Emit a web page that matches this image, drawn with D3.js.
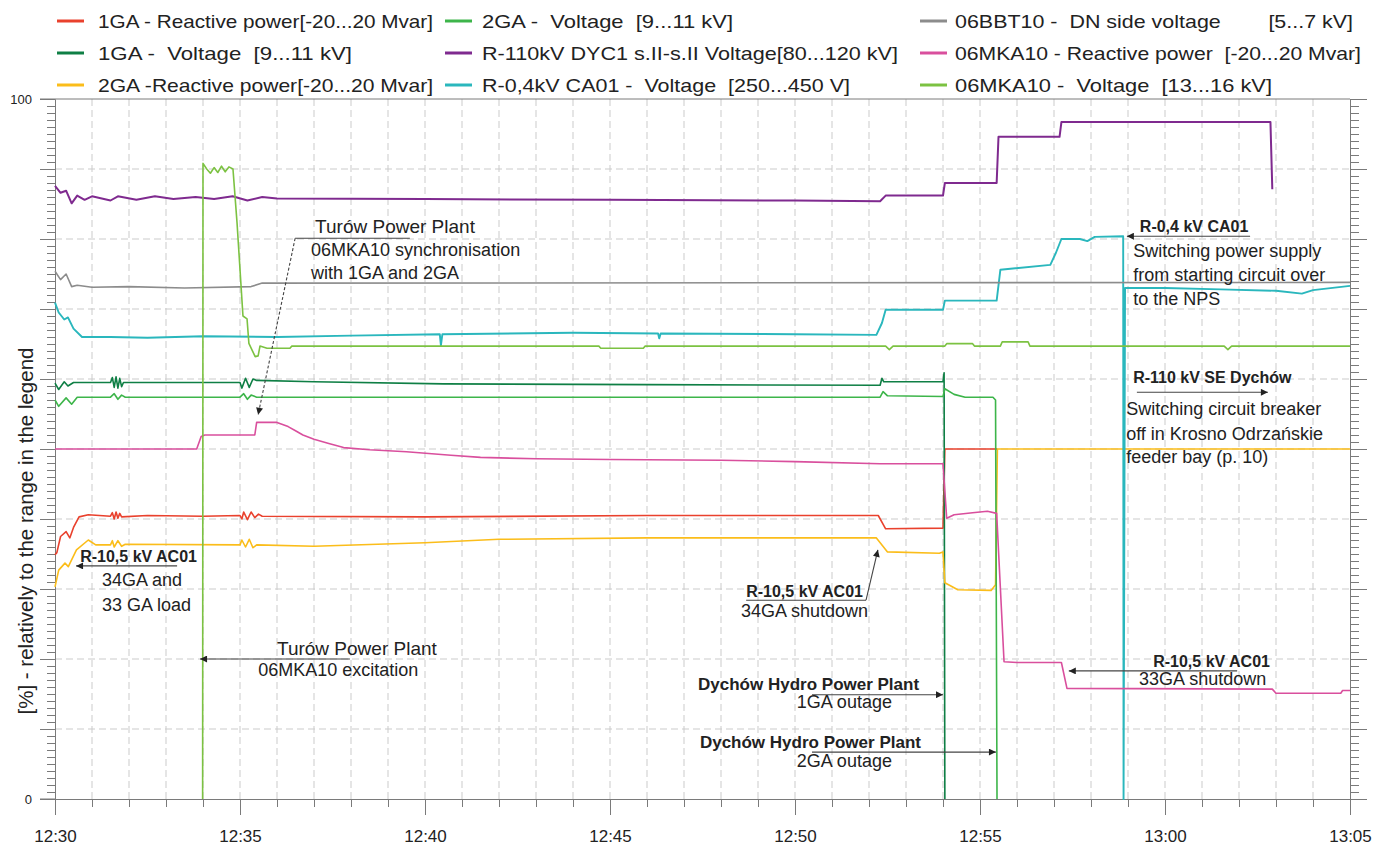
<!DOCTYPE html>
<html>
<head>
<meta charset="utf-8">
<script src="https://cdn.jsdelivr.net/npm/d3@7"></script>
<style>
  body { margin: 0; background: #fff; }
  svg text { font-family: "Liberation Sans", Arial, sans-serif; fill: #222; white-space: pre; }
</style>
</head>
<body>
<svg class="chart"></svg>
<script>
const width = 1391,
  height = 847;

// values in % of the legend range, time in minutes after 12:30
const ga1Reactive = [[0,34.9],[0.05,35.2],[0.15,37.5],[0.3,38.2],[0.4,37.3],[0.5,38.8],[0.65,40.3],[0.9,40.6],[1.5,40.4],[1.55,40.9],[1.6,40.0],[1.65,41.0],[1.7,40.1],[1.75,40.8],[1.8,40.3],[2.5,40.5],[4.0,40.4],[5.0,40.5],[5.05,40.0],[5.1,41.0],[5.2,39.9],[5.3,41.0],[5.4,40.2],[5.5,40.7],[5.6,40.4],[10,40.3],[16,40.5],[22.25,40.5],[22.45,38.6],[24.0,38.7],[24.05,50.0],[25.47,50.0]];
const ga1Voltage = [[0,59.4],[0.1,58.5],[0.25,59.6],[0.35,59.0],[0.5,59.5],[1.5,59.5],[1.55,60.2],[1.6,58.8],[1.65,60.3],[1.7,58.7],[1.75,60.1],[1.8,58.9],[1.85,59.5],[5.0,59.5],[5.05,58.7],[5.15,60.1],[5.25,58.8],[5.35,60.0],[5.45,59.8],[7,59.6],[10.5,59.3],[16,59.2],[22.3,59.1],[22.35,60.1],[22.4,59.6],[24.0,59.6],[24.03,60.9],[24.05,0]];
const ga2Reactive = [[0,30.3],[0.1,32.7],[0.27,33.7],[0.36,33.2],[0.58,35.6],[0.9,37.0],[1.1,36.3],[1.5,36.3],[1.55,36.9],[1.6,36.0],[1.7,36.9],[1.8,36.1],[1.9,36.4],[5.0,36.3],[5.05,37.0],[5.15,36.0],[5.25,37.1],[5.35,35.9],[5.45,36.3],[7,36.1],[10,36.6],[12,37.1],[16,37.3],[22.2,37.3],[22.5,35.3],[23.9,35.1],[24.0,35.3],[24.05,30.9],[24.4,29.9],[25.3,29.8],[25.42,30.6],[25.47,50.0],[35,50.0]];
const ga2Voltage = [[0,57.0],[0.1,56.1],[0.3,57.3],[0.45,56.4],[0.6,57.4],[1.5,57.4],[1.6,57.9],[1.7,57.1],[1.8,57.7],[1.9,57.4],[5.0,57.4],[5.1,57.9],[5.2,57.1],[5.3,57.7],[5.45,57.4],[22.3,57.4],[22.38,58.2],[22.5,57.6],[24.0,57.5],[24.05,58.6],[24.3,57.8],[24.6,57.4],[25.35,57.4],[25.42,57.0],[25.46,0]];
const dyc1Voltage = [[0,87.6],[0.15,86.6],[0.3,86.9],[0.45,85.1],[0.6,86.2],[0.8,85.6],[1.0,86.1],[1.5,85.5],[1.7,86.1],[2.2,85.6],[2.7,86.1],[3.2,85.7],[3.8,86.0],[4.3,85.7],[4.8,86.1],[5.2,85.5],[5.6,86.0],[6,85.8],[10,85.7],[15,85.6],[20,85.5],[22.3,85.4],[22.45,86.2],[24.0,86.2],[24.05,88.0],[25.45,88.0],[25.5,94.6],[27.15,94.6],[27.2,96.7],[32.85,96.7],[32.9,87.1]];
const ca01Voltage = [[0,70.9],[0.1,69.5],[0.25,68.5],[0.35,68.8],[0.5,67.2],[0.73,66.0],[1.5,66.0],[2.5,65.9],[4,66.1],[6,66.0],[8,66.2],[10.4,66.4],[10.43,64.8],[10.47,66.4],[14,66.6],[16.3,66.5],[16.33,65.8],[16.37,66.5],[20,66.4],[22.2,66.3],[22.35,68.0],[22.45,69.9],[24.0,69.9],[24.05,71.2],[25.45,71.2],[25.55,75.6],[26.9,76.3],[27.05,78],[27.2,80.0],[27.7,80.0],[27.9,79.7],[28.1,80.3],[28.87,80.4],[28.88,0],[28.92,73.0],[30,73.0],[31.5,72.8],[33,72.6],[33.7,72.2],[34,72.7],[35,73.3]];
const bbtVoltage = [[0,75.4],[0.15,74.2],[0.3,75.0],[0.45,73.2],[0.6,73.4],[1,73.1],[2,73.2],[3.5,73.0],[5.3,73.2],[5.6,73.7],[35,73.8]];
const mkaReactive = [[0,50.0],[3.83,50.0],[3.95,51.8],[4.05,52.0],[5.4,52.0],[5.45,53.8],[6.0,53.8],[6.3,53.2],[6.5,52.6],[6.7,52.0],[7.0,51.4],[7.4,50.8],[7.8,50.2],[8.5,49.9],[9.5,49.6],[10.7,49.1],[11.5,48.8],[13,48.6],[15,48.5],[18,48.4],[20,48.2],[22.3,47.9],[24.0,47.9],[24.1,40.1],[24.3,40.6],[24.8,40.9],[25.2,41.1],[25.45,40.8],[25.65,19.6],[26,19.5],[27.2,19.5],[27.35,15.8],[32.9,15.7],[33.0,15.1],[34.75,15.1],[34.8,15.5],[35,15.5]];
const mkaVoltage = [[3.99,0],[4.0,90.8],[4.1,90.0],[4.2,89.4],[4.3,90.2],[4.4,89.5],[4.5,90.4],[4.6,89.6],[4.7,90.3],[4.81,90.0],[4.92,82.3],[5.08,69.0],[5.19,68.6],[5.24,65.1],[5.41,63.2],[5.49,63.3],[5.54,64.7],[5.73,64.4],[6.35,64.4],[6.4,64.7],[14.7,64.7],[14.75,64.4],[15.9,64.4],[15.95,64.7],[22.45,64.7],[22.55,64.2],[22.65,64.7],[24.05,64.7],[24.1,65.05],[24.8,65.05],[24.85,64.7],[25.55,64.7],[25.6,65.3],[26.3,65.3],[26.35,64.7],[31.6,64.7],[31.7,64.2],[31.8,64.7],[35,64.7]];

const series = [ga1Reactive, ga1Voltage, ga2Reactive, ga2Voltage, dyc1Voltage, ca01Voltage, bbtVoltage, mkaReactive, mkaVoltage];
const seriesLabels = [
  "1GA - Reactive power[-20...20 Mvar]",
  "1GA -  Voltage  [9...11 kV]",
  "2GA -Reactive power[-20...20 Mvar]",
  "2GA -  Voltage  [9...11 kV]",
  "R-110kV DYC1 s.II-s.II Voltage[80...120 kV]",
  "R-0,4kV CA01 -  Voltage  [250...450 V]",
  "06BBT10 -  DN side voltage        [5...7 kV]",
  "06MKA10 - Reactive power  [-20...20 Mvar]",
  "06MKA10 -  Voltage  [13...16 kV]"
];
const seriesColors = ["#e9412d", "#0f7f45", "#fbbd1a", "#3db54a", "#7f2a8f", "#2ab7bd", "#8c8c8c", "#d94f9d", "#7cc242"];
const legendWidths = [335, 254, 335, 251, 416, 368, 398, 406, 317];

// annotations: [minute, percent, text, kind]
const notes = [
  [7.03, 80.86, "Turów Power Plant", "big"],
  [6.92, 77.57, "06MKA10 synchronisation", "txt"],
  [6.92, 74.29, "with 1GA and 2GA", "txt"],
  [29.32, 81.0, "R-0,4 kV CA01", "bold"],
  [29.14, 77.43, "Switching power supply", "txt"],
  [29.14, 74.0, "from starting circuit over", "txt"],
  [29.14, 70.57, "to the NPS", "txt"],
  [29.14, 59.43, "R-110 kV SE Dychów", "bold"],
  [28.95, 54.86, "Switching circuit breaker", "txt"],
  [28.95, 51.29, "off in Krosno Odrzańskie", "txt"],
  [28.95, 48.0, "feeder bay (p. 10)", "txt"],
  [0.68, 33.86, "R-10,5 kV AC01", "bold"],
  [1.27, 30.43, "34GA and", "txt"],
  [1.27, 26.86, "33 GA load", "txt"],
  [6.0, 20.57, "Turów Power Plant", "big"],
  [5.49, 17.57, "06MKA10 excitation", "txt"],
  [18.68, 28.86, "R-10,5 kV AC01", "bold"],
  [18.54, 26.0, "34GA shutdown", "txt"],
  [17.38, 15.57, "Dychów Hydro Power Plant", "head"],
  [20.05, 13.0, "1GA outage", "txt"],
  [17.43, 7.29, "Dychów Hydro Power Plant", "head"],
  [20.05, 4.57, "2GA outage", "txt"],
  [29.68, 18.86, "R-10,5 kV AC01", "bold"],
  [29.3, 16.29, "33GA shutdown", "txt"]
];
// [t1, v1, t2, v2, arrow head, dashed]
const pointers = [
  [6.49, 80.1, 9.59, 80.1, false, false],
  [6.49, 80.1, 5.49, 54.9, true, true],
  [32.3, 80.4, 28.97, 80.4, true, false],
  [29.24, 58.1, 32.78, 58.1, true, false],
  [3.30, 33.3, 0.57, 33.3, true, false],
  [7.97, 20.0, 3.92, 20.0, true, false],
  [18.68, 28.4, 21.92, 28.4, false, false],
  [21.92, 28.4, 22.24, 35.6, true, false],
  [20.46, 14.9, 24.0, 14.9, true, false],
  [20.46, 6.7, 25.43, 6.7, true, false],
  [31.95, 18.3, 27.4, 18.3, true, false]
];

const noteStyle = {
  big: {size: 19, weight: "normal"},
  txt: {size: 18, weight: "normal"},
  bold: {size: 16, weight: "bold"},
  head: {size: 17, weight: "bold"}
};

const start = new Date(2020, 0, 1, 12, 30);
const toDate = m => new Date(start.getTime() + m * 60000);

const x = d3.scaleTime()
  .domain([start, toDate(35)])
  .range([55, 1350]);
const y = d3.scaleLinear()
  .domain([0, 100])
  .range([799, 99]);

let chart = d3.select(".chart")
  .attr("width", width)
  .attr("height", height);

chart.append("rect").attr("width", width).attr("height", height).attr("fill", "#fff");

chart.append("defs").append("marker")
  .attr("id", "head")
  .attr("viewBox", "0 0 10 10")
  .attr("refX", 10).attr("refY", 5)
  .attr("markerWidth", 9).attr("markerHeight", 7)
  .attr("markerUnits", "userSpaceOnUse")
  .attr("orient", "auto")
  .append("path").attr("d", "M0,0L10,5L0,10z").attr("fill", "#222");

// grid
let grid = chart.append("g").attr("stroke", "#cbcbcb").attr("stroke-dasharray", "7,4");
grid.selectAll(".h").data(d3.range(10, 100, 10))
  .enter().append("line")
  .attr("x1", 55).attr("x2", 1350)
  .attr("y1", d => y(d)).attr("y2", d => y(d));
grid.selectAll(".v").data(d3.range(1, 35))
  .enter().append("line")
  .attr("x1", d => x(toDate(d))).attr("x2", d => x(toDate(d)))
  .attr("y1", 99).attr("y2", 799);

// axes
const axisColor = "#7a7a7a";
function styleAxis(g) {
  g.selectAll("path, line").attr("stroke", axisColor);
}
chart.append("g").attr("transform", "translate(55,0)")
  .call(d3.axisLeft(y).tickValues(d3.range(0, 101, 1)).tickSize(8).tickSizeOuter(0).tickFormat(""))
  .call(styleAxis);
chart.append("g").attr("transform", "translate(55,0)")
  .call(d3.axisLeft(y).tickValues([0, 10, 20, 30, 40, 50, 60, 70, 80, 90, 100]).tickSize(15).tickSizeOuter(0).tickPadding(8)
    .tickFormat(d => (d === 0 || d === 100) ? d : ""))
  .call(styleAxis)
  .call(g => g.selectAll("text").attr("font-size", 13).attr("fill", "#222").style("font-family", '"Liberation Sans", Arial'));
chart.append("g").attr("transform", "translate(1350,0)")
  .call(d3.axisRight(y).tickValues(d3.range(0, 101, 1)).tickSize(9).tickSizeOuter(0).tickFormat(""))
  .call(styleAxis);
chart.append("g").attr("transform", "translate(1350,0)")
  .call(d3.axisRight(y).tickValues(d3.range(0, 101, 10)).tickSize(17).tickSizeOuter(0).tickFormat(""))
  .call(styleAxis);
chart.append("g").attr("transform", "translate(0,799)")
  .call(d3.axisBottom(x).ticks(d3.timeMinute.every(1)).tickSize(8).tickSizeOuter(0).tickFormat(""))
  .call(styleAxis);
chart.append("g").attr("transform", "translate(0,799)")
  .call(d3.axisBottom(x).ticks(d3.timeMinute.every(5)).tickSize(16).tickSizeOuter(0).tickPadding(15)
    .tickFormat(d3.timeFormat("%H:%M")))
  .call(styleAxis)
  .call(g => g.selectAll("text").attr("font-size", 17).attr("fill", "#222").style("font-family", '"Liberation Sans", Arial'));
chart.append("line").attr("x1", 40).attr("x2", 1350).attr("y1", y(100)).attr("y2", y(100)).attr("stroke", axisColor);
chart.append("line").attr("x1", 40).attr("x2", 55).attr("y1", y(0)).attr("y2", y(0)).attr("stroke", axisColor);

chart.append("text")
  .attr("transform", `translate(33,${(y(0) + y(100)) / 2 + 82}) rotate(-90)`)
  .attr("text-anchor", "middle")
  .attr("font-size", 20.5)
  .text("[%] - relatively to the range in the legend");

// series
let line = d3.line()
  .x(d => x(toDate(d[0])))
  .y(d => y(d[1]));
chart.append("g").selectAll("path")
  .data(series)
  .enter().append("path")
  .attr("d", line)
  .attr("fill", "none")
  .attr("stroke", (d, i) => seriesColors[i])
  .attr("stroke-width", (d, i) => i === 4 ? 2 : (i === 5 ? 1.9 : 1.6))
  .attr("stroke-linejoin", "round");

// annotations
chart.append("g").selectAll("line")
  .data(pointers)
  .enter().append("line")
  .attr("x1", d => x(toDate(d[0]))).attr("y1", d => y(d[1]))
  .attr("x2", d => x(toDate(d[2]))).attr("y2", d => y(d[3]))
  .attr("stroke", "#444")
  .attr("stroke-width", 1.1)
  .attr("stroke-dasharray", d => d[5] ? "3,2" : null)
  .attr("marker-end", d => d[4] ? "url(#head)" : null);

chart.append("g").selectAll("text")
  .data(notes)
  .enter().append("text")
  .attr("x", d => x(toDate(d[0])))
  .attr("y", d => y(d[1]))
  .attr("font-size", d => noteStyle[d[3]].size)
  .attr("font-weight", d => noteStyle[d[3]].weight)
  .text(d => d[2]);

// legend, three columns of three
const colSwatch = [57, 445, 920], colText = [98, 482, 955], rowBase = [28, 60, 92];
let legend = chart.append("g").selectAll("g")
  .data(seriesLabels)
  .enter().append("g");
legend.append("line")
  .attr("x1", (d, i) => colSwatch[Math.floor(i / 3)])
  .attr("x2", (d, i) => colSwatch[Math.floor(i / 3)] + 27)
  .attr("y1", (d, i) => rowBase[i % 3] - 7)
  .attr("y2", (d, i) => rowBase[i % 3] - 7)
  .attr("stroke", (d, i) => seriesColors[i])
  .attr("stroke-width", 3);
legend.append("text")
  .attr("x", (d, i) => colText[Math.floor(i / 3)])
  .attr("y", (d, i) => rowBase[i % 3])
  .attr("font-size", 19)
  .attr("textLength", (d, i) => legendWidths[i])
  .attr("lengthAdjust", "spacingAndGlyphs")
  .text(d => d);
</script>
</body>
</html>
